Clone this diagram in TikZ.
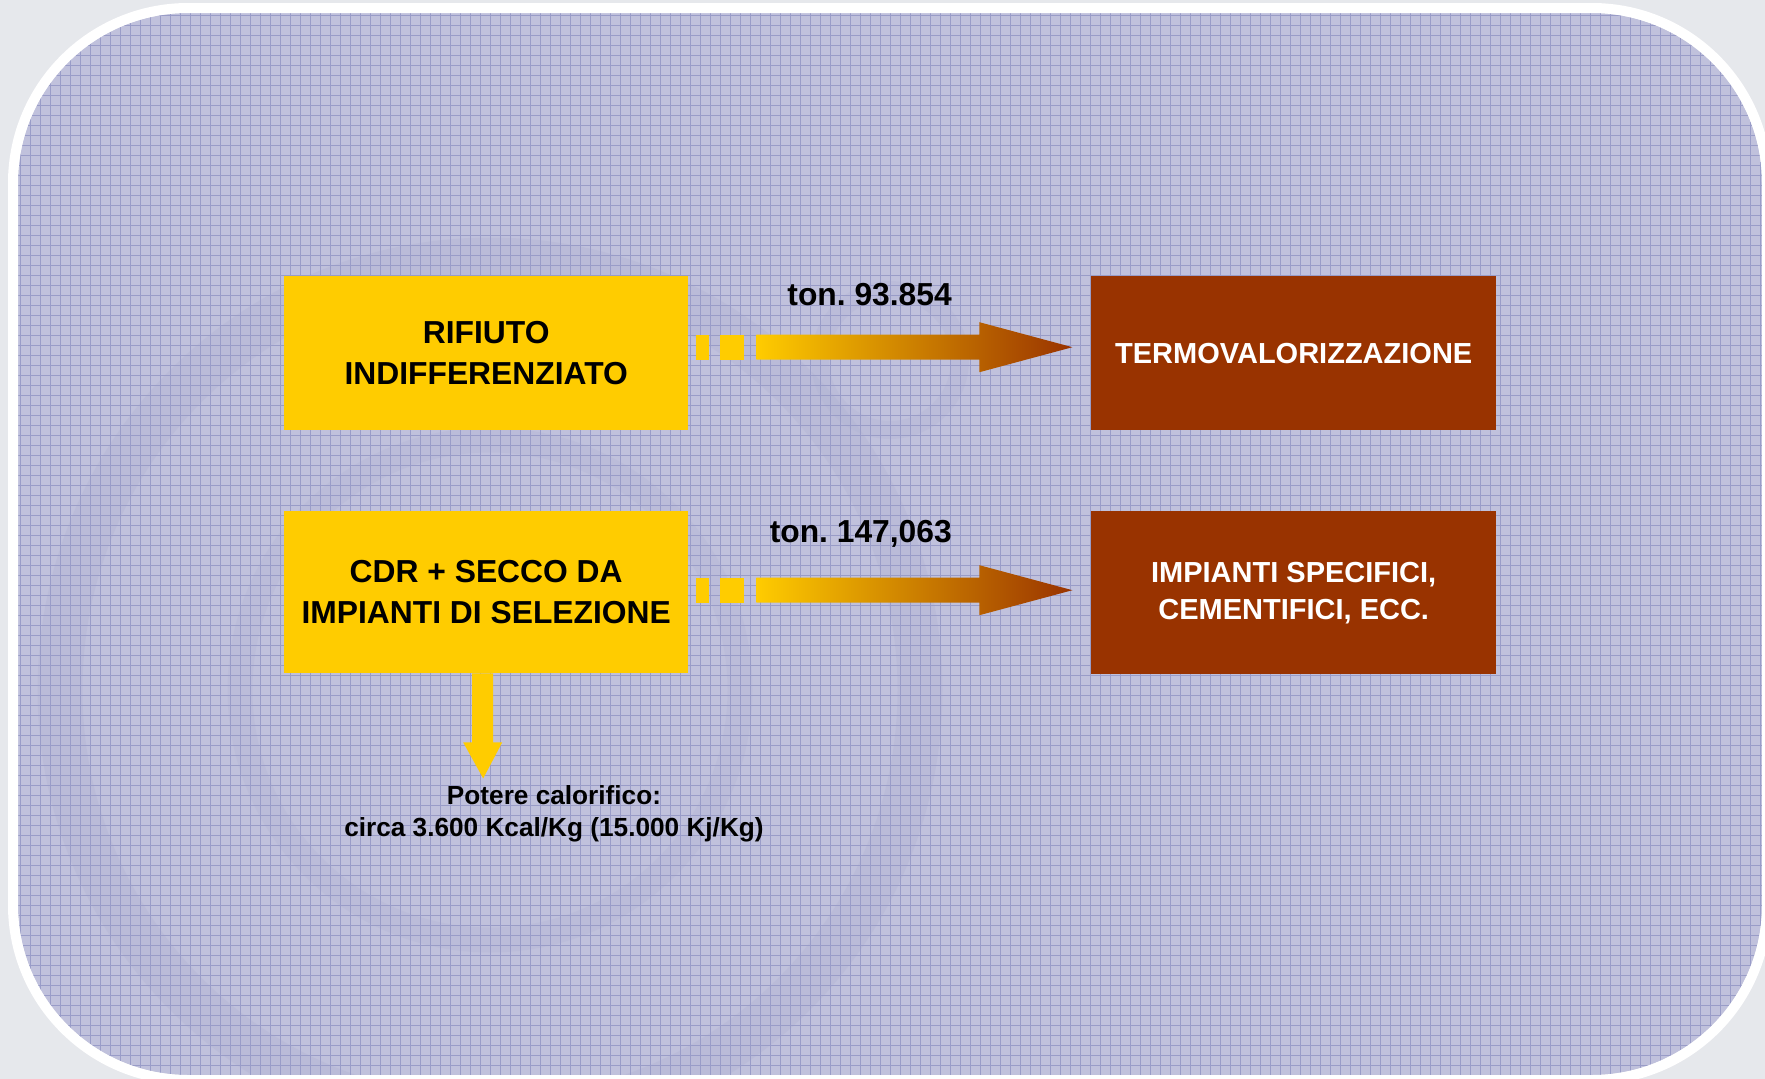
\documentclass[tikz,border=0pt]{standalone}
\usepackage{fontspec}
\setmainfont{Liberation Sans}
\usetikzlibrary{calc}
\frenchspacing
\definecolor{outerbg}{HTML}{E6E8EC}
\definecolor{panelbg}{HTML}{C0C1DC}
\definecolor{gridc}{HTML}{999CC8}
\definecolor{ringc}{HTML}{AEB0D2}
\definecolor{myyellow}{HTML}{FFCC00}
\definecolor{mybrown}{HTML}{993300}
\tikzset{
  ybox/.style={fill=myyellow, inner sep=0pt, anchor=north west, align=center,
    font=\bfseries\fontsize{31.8}{40.5}\selectfont, text=black},
  bbox/.style={fill=mybrown, inner sep=0pt, anchor=north west, align=center,
    font=\bfseries\fontsize{29}{37}\selectfont, text=white},
  tonlabel/.style={inner sep=0pt, anchor=base east, font=\bfseries\fontsize{31.8}{38}\selectfont},
  notelabel/.style={inner sep=0pt, align=center, font=\bfseries\fontsize{26.2}{32}\selectfont},
}
\newcommand{\flowarrow}[1]{%
  \fill[myyellow] ($(#1)+(0,-12.5)$) rectangle ($(#1)+(13,12.5)$);
  \fill[myyellow] ($(#1)+(24,-12.5)$) rectangle ($(#1)+(48,12.5)$);
  \shade[left color=myyellow, right color=mybrown]
    ($(#1)+(60,-12.5)$) -- ($(#1)+(283,-12.5)$) -- ($(#1)+(283,-25)$) --
    ($(#1)+(376,0)$) -- ($(#1)+(283,25)$) -- ($(#1)+(283,12.5)$) --
    ($(#1)+(60,12.5)$) -- cycle;
}
\begin{document}
\begin{tikzpicture}[x=1pt,y=-1pt]
  % page
  \fill[outerbg] (0,0) rectangle (1765,1079);
  \useasboundingbox (0,0) rectangle (1765,1079);
  % panel
  \fill[panelbg, rounded corners=170pt] (18,13) rectangle (1762,1075);
  \begin{scope}
    \clip[rounded corners=170pt] (18,13) rectangle (1762,1075);
    \draw[ringc, line width=45pt, opacity=0.3] (490,690) circle (430);
    \draw[ringc, line width=25pt, opacity=0.25] (490,690) circle (250);
    \draw[ringc, line width=18pt, opacity=0.25] (890,360) circle (70);
    \foreach \i in {20,30,...,1760} \draw[gridc, line width=0.6pt] (\i,0) -- (\i,1079);
    \foreach \j in {15,25,...,1075} \draw[gridc, line width=0.6pt] (0,\j) -- (1765,\j);
  \end{scope}
  \draw[white, line width=10pt, rounded corners=175pt] (13,8) rectangle (1767,1080);

  % boxes
  \node[ybox, minimum width=404pt, minimum height=154pt] (y1) at (284,276)
    {RIFIUTO\\INDIFFERENZIATO};
  \node[ybox, minimum width=404pt, minimum height=162pt] (y2) at (284,511)
    {CDR + SECCO DA\\IMPIANTI DI SELEZIONE};
  \node[bbox, minimum width=405pt, minimum height=154pt] (b1) at (1091,276)
    {TERMOVALORIZZAZIONE};
  \node[bbox, minimum width=405pt, minimum height=163pt] (b2) at (1091,511)
    {IMPIANTI SPECIFICI,\\CEMENTIFICI, ECC.};

  % horizontal arrows
  \coordinate (a1) at ($(y1.east)+(8,-6)$);
  \coordinate (a2) at ($(y2.east)+(8,-2)$);
  \flowarrow{a1}
  \flowarrow{a2}

  % labels
  \node[tonlabel] (t1) at (952,305) {ton. 93.854};
  \node[tonlabel] (t2) at (952,542) {ton. 147,063};

  % down arrow
  \coordinate (d) at (y2.south);
  \fill[myyellow] ($(d)+(-14,0)$) -- ($(d)+(7,0)$) -- ($(d)+(7,69)$) -- ($(d)+(16,69)$)
    -- ($(d)+(-3,105)$) -- ($(d)+(-23,69)$) -- ($(d)+(-14,69)$) -- cycle;

  \node[notelabel] (pc) at (554,814) {Potere calorifico:\\circa 3.600 Kcal/Kg (15.000 Kj/Kg)};
\end{tikzpicture}
\end{document}
